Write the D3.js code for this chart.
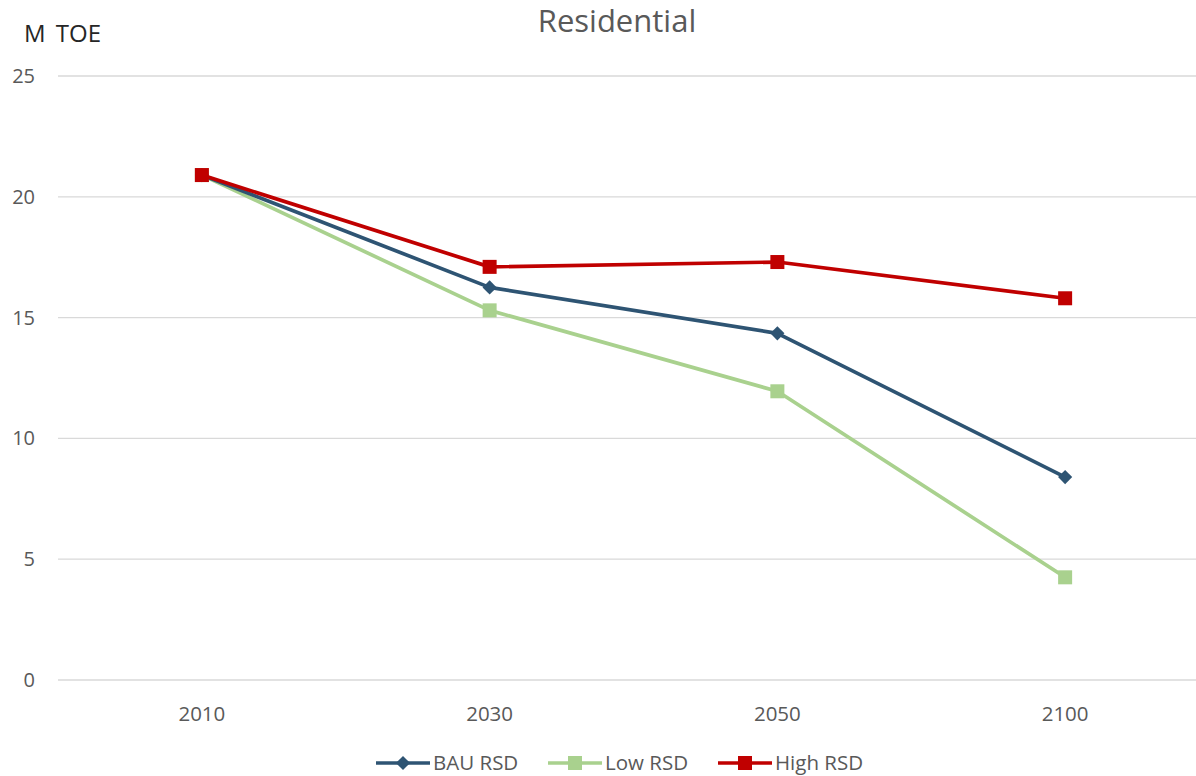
<!DOCTYPE html>
<html>
<head>
<meta charset="utf-8">
<script src="https://cdn.jsdelivr.net/npm/d3@7"></script>
<style>
  body { margin: 0; background: #fff; }
  svg text { font-family: "Open Sans", "Noto Sans", sans-serif; }
</style>
</head>
<body>
<svg id="chart" width="1196" height="776"></svg>
<script>
var years = ["2010", "2030", "2050", "2100"];
var bauRSD = [20.9, 16.25, 14.35, 8.4];
var lowRSD = [20.9, 15.3, 11.95, 4.25];
var highRSD = [20.9, 17.1, 17.3, 15.8];
var yTicks = [0, 5, 10, 15, 20, 25];

var series = [
  { name: "BAU RSD", values: bauRSD, color: "#2E5473", marker: "diamond" },
  { name: "Low RSD", values: lowRSD, color: "#A9D18E", marker: "square" },
  { name: "High RSD", values: highRSD, color: "#C00000", marker: "square" }
];

var svg = d3.select("#chart");
var plotLeft = 58, plotRight = 1209, plotTop = 76, plotBottom = 680;

var x = d3.scaleBand().domain(years).range([plotLeft, plotRight]);
var y = d3.scaleLinear().domain([0, 25]).range([plotBottom, plotTop]);

// gridlines
svg.append("g").selectAll("line")
  .data(yTicks)
  .enter().append("line")
  .attr("x1", plotLeft).attr("x2", plotRight)
  .attr("y1", function(d) { return y(d); })
  .attr("y2", function(d) { return y(d); })
  .attr("stroke", "#d9d9d9")
  .attr("stroke-width", 1.3);

// y axis labels
svg.append("g").selectAll("text")
  .data(yTicks)
  .enter().append("text")
  .attr("x", 35)
  .attr("y", function(d) { return y(d); })
  .attr("dy", "0.35em")
  .attr("text-anchor", "end")
  .attr("font-size", 20)
  .attr("fill", "#595959")
  .text(function(d) { return d; });

// x axis labels
svg.append("g").selectAll("text")
  .data(years)
  .enter().append("text")
  .attr("x", function(d) { return x(d) + x.bandwidth() / 2; })
  .attr("y", 721)
  .attr("text-anchor", "middle")
  .attr("font-size", 20.5)
  .attr("fill", "#595959")
  .text(function(d) { return d; });

// title and unit
svg.append("text")
  .attr("x", 617).attr("y", 32)
  .attr("text-anchor", "middle")
  .attr("font-size", 31)
  .attr("fill", "#595959")
  .text("Residential");

svg.append("text")
  .attr("x", 24).attr("y", 42)
  .attr("font-size", 24)
  .attr("fill", "#262626")
  .attr("word-spacing", 4)
  .text("M TOE");

var line = d3.line()
  .x(function(d, i) { return x(years[i]) + x.bandwidth() / 2; })
  .y(function(d) { return y(d); });

var drawMarker = function(g, type, color, cx, cy) {
  if (type == "diamond") {
    g.append("rect")
      .attr("x", -5).attr("y", -5).attr("width", 10).attr("height", 10)
      .attr("fill", color)
      .attr("transform", "translate(" + cx + "," + cy + ") rotate(45)");
  } else {
    g.append("rect")
      .attr("x", cx - 7).attr("y", cy - 7)
      .attr("width", 14).attr("height", 14)
      .attr("fill", color);
  }
};

// low first, then bau, high on top
[1, 0, 2].forEach(function(k) {
  var s = series[k];
  var g = svg.append("g");
  g.append("path")
    .datum(s.values)
    .attr("d", line)
    .attr("fill", "none")
    .attr("stroke", s.color)
    .attr("stroke-width", 3.7)
    .attr("stroke-linejoin", "round");
  s.values.forEach(function(v, i) {
    drawMarker(g, s.marker, s.color, x(years[i]) + x.bandwidth() / 2, y(v));
  });
});

// legend
var legendX = [376, 548, 718];
series.forEach(function(s, i) {
  var g = svg.append("g").attr("transform", "translate(" + legendX[i] + ",763)");
  g.append("line")
    .attr("x1", 0).attr("x2", 54)
    .attr("stroke", s.color).attr("stroke-width", 3.7);
  drawMarker(g, s.marker, s.color, 27, 0);
  g.append("text")
    .attr("x", 57).attr("y", 0).attr("dy", "0.35em")
    .attr("font-size", 20.5)
    .attr("fill", "#595959")
    .text(s.name);
});
</script>
</body>
</html>
